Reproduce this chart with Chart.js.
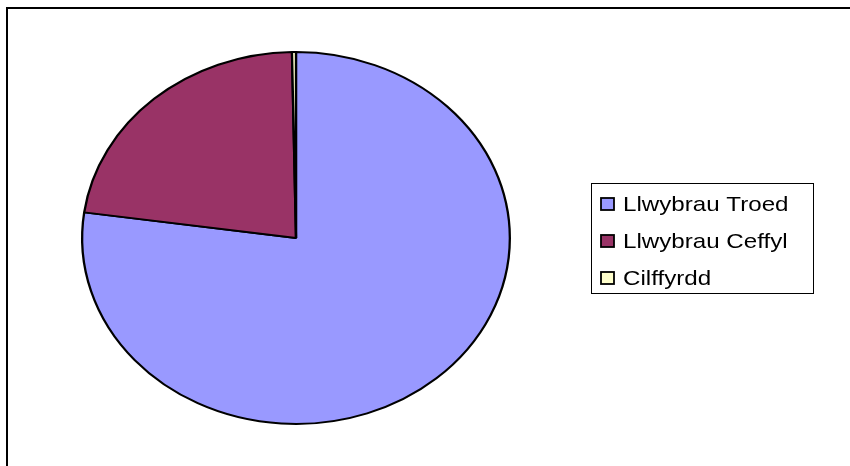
<!DOCTYPE html>
<html>
<head>
<meta charset="utf-8">
<script src="https://cdn.jsdelivr.net/npm/chart.js@4"></script>
<style>
html,body{margin:0;padding:0;background:#fff;}
#wrap{width:850px;height:466px;position:relative;}
</style>
</head>
<body>
<div id="wrap"><canvas id="c" width="850" height="466"></canvas></div>
<script>
const categories = ["Llwybrau Troed", "Llwybrau Ceffyl", "Cilffyrdd"];
const values = [77.2, 22.5, 0.3];
const colors = ["#9999FF", "#993366", "#FFFFCC"];

const ellipse = {
  id: 'ellipse',
  beforeDatasetsDraw(chart) {
    const a = chart.chartArea;
    const cx = (a.left + a.right) / 2, cy = (a.top + a.bottom) / 2;
    const ctx = chart.ctx;
    ctx.save();
    ctx.translate(cx, cy);
    ctx.scale(215 / 187, 1);
    ctx.translate(-cx, -cy);
  },
  afterDatasetsDraw(chart) { chart.ctx.restore(); }
};

const frame = {
  id: 'frame',
  beforeDraw(chart) {
    const ctx = chart.ctx;
    ctx.save();
    ctx.fillStyle = '#fff';
    ctx.fillRect(0, 0, chart.width, chart.height);
    ctx.strokeStyle = '#000';
    ctx.lineWidth = 2;
    ctx.beginPath();
    ctx.moveTo(7, 470);
    ctx.lineTo(7, 8);
    ctx.lineTo(852, 8);
    ctx.stroke();
    ctx.restore();
  }
};

const boxLegend = {
  id: 'boxLegend',
  afterDraw(chart) {
    const ctx = chart.ctx;
    const labels = chart.data.labels;
    const bg = chart.data.datasets[0].backgroundColor;
    ctx.save();
    ctx.strokeStyle = '#000';
    ctx.lineWidth = 1;
    ctx.strokeRect(591.5, 183.5, 222, 110);
    ctx.font = '21px "Liberation Sans", Arial, sans-serif';
    ctx.textBaseline = 'middle';
    labels.forEach((l, i) => {
      const y = 204 + i * 37;
      ctx.fillStyle = bg[i];
      ctx.fillRect(601, y - 6, 13, 12);
      ctx.lineWidth = 1.8;
      ctx.strokeRect(601, y - 6, 13, 12);
      ctx.fillStyle = '#000';
      ctx.save();
      ctx.translate(623, y);
      ctx.scale(1.15, 1);
      ctx.fillText(l, 0, 1);
      ctx.restore();
    });
    ctx.restore();
  }
};

new Chart(document.getElementById('c'), {
  type: 'pie',
  data: {
    labels: categories,
    datasets: [{
      data: values,
      backgroundColor: colors,
      borderColor: '#000',
      borderWidth: 2,
      borderAlign: 'center'
    }]
  },
  options: {
    responsive: false,
    animation: false,
    devicePixelRatio: 1,
    layout: { padding: { left: 109, right: 367, top: 51, bottom: 41 } },
    plugins: { legend: { display: false }, tooltip: { enabled: false } }
  },
  plugins: [frame, ellipse, boxLegend]
});
</script>
</body>
</html>
